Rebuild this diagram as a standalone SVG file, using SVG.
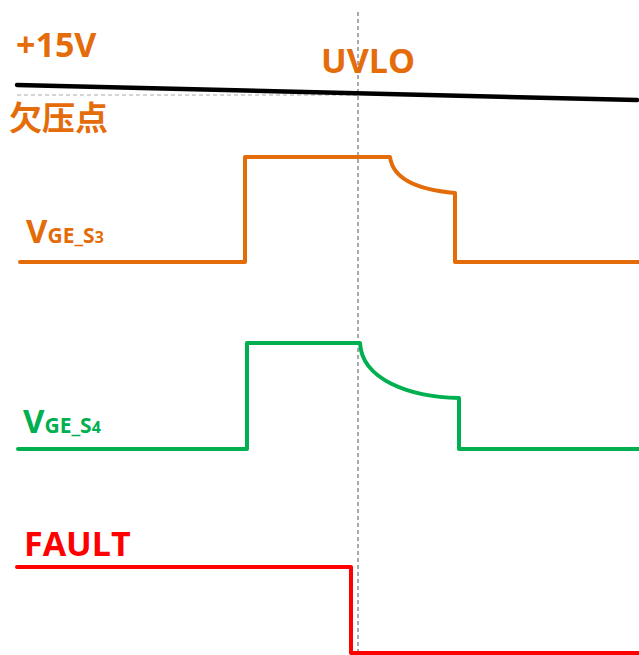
<svg xmlns="http://www.w3.org/2000/svg" width="639" height="655" viewBox="0 0 639 655">
<style>
.lbl{font-family:"Open Sans","Noto Sans CJK SC",sans-serif;font-weight:bold}
.or{fill:#E46C0A}
.wave{fill:none;stroke-width:4;stroke-linejoin:round;stroke-linecap:round}
.dash{fill:none;stroke:#555;stroke-width:1;stroke-dasharray:4,3}
</style>
<rect width="639" height="655" fill="#fff"/>
<g id="guides">
<line class="dash" x1="358" y1="12" x2="358" y2="655"/>
<line x1="17" y1="95" x2="358" y2="95" stroke="#aaa" stroke-width="1" stroke-dasharray="4,3"/>
</g>
<g id="vcc">
<line x1="17" y1="85" x2="637" y2="100" stroke="#000" stroke-width="4.5" stroke-linecap="round"/>
<text class="lbl or" x="16" y="57" font-size="34">+15V</text>
<text class="lbl or" x="321" y="73" font-size="34">UVLO</text>
<text class="lbl or" x="9" y="130" font-size="33">欠压点</text>
</g>
<g id="vge_s3">
<path class="wave" stroke="#E36C09" d="M20,262 H245 V157 H390 C393,180 420,190 455,193 V262 H639"/>
<text class="lbl" fill="#E36C09" x="26" y="243"><tspan font-size="33">V</tspan><tspan font-size="21">GE_S</tspan><tspan font-size="16">3</tspan></text>
</g>
<g id="vge_s4">
<path class="wave" stroke="#00B050" d="M18,449 H247 V343 H360 C362,380 410,397 459,398 V449 H639"/>
<text class="lbl" fill="#00B050" x="23" y="433"><tspan font-size="33">V</tspan><tspan font-size="21">GE_S</tspan><tspan font-size="16">4</tspan></text>
</g>
<g id="fault">
<path class="wave" stroke="#FF0000" d="M17,567 H351 V653 H639"/>
<text class="lbl" fill="#FF0000" x="24" y="556" font-size="34">FAULT</text>
</g>
</svg>
